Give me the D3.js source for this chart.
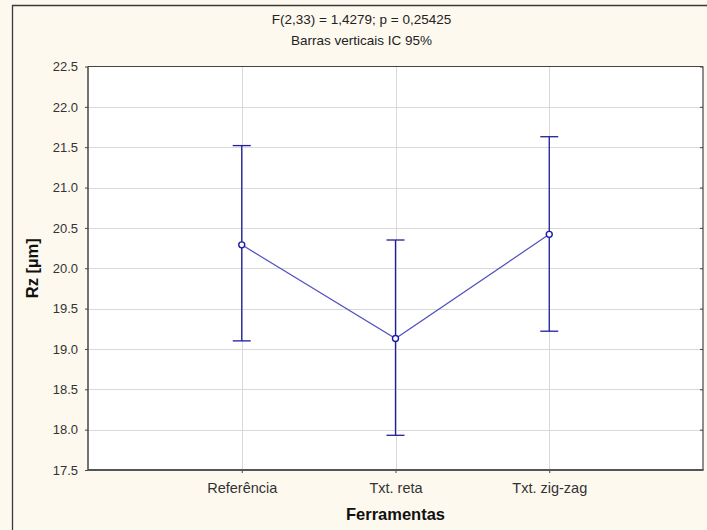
<!DOCTYPE html>
<html>
<head>
<meta charset="utf-8">
<script src="https://cdn.jsdelivr.net/npm/d3@7"></script>
<style>
  html, body { margin: 0; padding: 0; background: #fdf9ef; }
  svg { display: block; }
  text { font-family: "Liberation Sans", Arial, sans-serif; }
</style>
</head>
<body>
<svg id="chart" width="707" height="530"></svg>
<script>
// Rz means per tool with 95% confidence intervals
const categories = ["Referência", "Txt. reta", "Txt. zig-zag"];
const means = [20.29, 19.13, 20.42];
const lowerCI = [19.10, 17.93, 19.22];
const upperCI = [21.52, 20.35, 21.63];
const yTicks = [17.5, 18.0, 18.5, 19.0, 19.5, 20.0, 20.5, 21.0, 21.5, 22.0, 22.5];
const titleLines = ["F(2,33) = 1,4279; p = 0,25425", "Barras verticais IC 95%"];
const xTitle = "Ferramentas";
const yTitle = "Rz [µm]";

const svg = d3.select("#chart");
const W = 707, H = 530;
const plot = { left: 88, right: 703, top: 66.5, bottom: 470 };

// Outer panel
svg.append("rect").attr("x", 0).attr("y", 0).attr("width", W).attr("height", H).attr("fill", "#fdf9ef");
svg.append("path")
  .attr("d", `M12.5,${H} V5.5 H${W}`)
  .attr("fill", "none").attr("stroke", "#3a3a3a").attr("stroke-width", 1.3);

// Scales
const x = d3.scalePoint().domain(["", ...categories, " "]).range([plot.left, plot.right]);
const y = d3.scaleLinear().domain([17.5, 22.5]).range([plot.bottom, plot.top]);

// Plot background
svg.append("rect")
  .attr("x", plot.left).attr("y", plot.top)
  .attr("width", plot.right - plot.left).attr("height", plot.bottom - plot.top)
  .attr("fill", "#ffffff");

// Gridlines
const grid = svg.append("g");
grid.selectAll("line.h").data(yTicks.slice(1, -1)).join("line")
  .attr("x1", plot.left).attr("x2", plot.right)
  .attr("y1", d => Math.round(y(d)) + 0.5).attr("y2", d => Math.round(y(d)) + 0.5)
  .attr("stroke", "#d9d9d9").attr("stroke-width", 1);
grid.selectAll("line.v").data(categories).join("line")
  .attr("x1", d => Math.round(x(d)) + 0.5).attr("x2", d => Math.round(x(d)) + 0.5)
  .attr("y1", plot.top).attr("y2", plot.bottom)
  .attr("stroke", "#d9d9d9").attr("stroke-width", 1);

const labelFont = "'Liberation Sans', Arial, sans-serif";

// Y axis (left, with labels)
const yAxis = d3.axisLeft(y).tickValues(yTicks).tickFormat(d3.format(".1f")).tickSize(3).tickPadding(7);
const gy = svg.append("g").attr("transform", `translate(${plot.left},0)`).call(yAxis);
gy.select(".domain").remove();
gy.selectAll(".tick line").attr("stroke", "#444");
gy.selectAll(".tick text").attr("fill", "#333").style("font-size", "13px").style("font-family", labelFont);

// Right side inner ticks
const gyr = svg.append("g").attr("transform", `translate(${plot.right},0)`)
  .call(d3.axisLeft(y).tickValues(yTicks).tickSize(3).tickFormat(""));
gyr.select(".domain").remove();
gyr.selectAll(".tick line").attr("stroke", "#444");

// X axis (bottom, with labels)
const xAxis = d3.axisBottom(x).tickValues(categories).tickSize(3).tickPadding(10);
const gx = svg.append("g").attr("transform", `translate(0,${plot.bottom})`).call(xAxis);
gx.select(".domain").remove();
gx.selectAll(".tick line").attr("stroke", "#444");
gx.selectAll(".tick text").attr("fill", "#333").style("font-size", "14.5px").style("font-family", labelFont);

// Plot frame
svg.append("line").attr("x1", plot.left).attr("x2", plot.right).attr("y1", plot.top).attr("y2", plot.top)
  .attr("stroke", "#444").attr("stroke-width", 1.2);
svg.append("line").attr("x1", plot.right).attr("x2", plot.right).attr("y1", plot.top).attr("y2", plot.bottom)
  .attr("stroke", "#444").attr("stroke-width", 1.2);
svg.append("line").attr("x1", plot.left).attr("x2", plot.left).attr("y1", plot.top).attr("y2", plot.bottom + 1)
  .attr("stroke", "#444").attr("stroke-width", 1.5);
svg.append("line").attr("x1", plot.left).attr("x2", plot.right + 0.6).attr("y1", plot.bottom).attr("y2", plot.bottom)
  .attr("stroke", "#555").attr("stroke-width", 2.2);

// Mean line
const line = d3.line().x((d, i) => x(categories[i])).y(d => y(d));
svg.append("path").datum(means).attr("d", line)
  .attr("fill", "none").attr("stroke", "#5050c0").attr("stroke-width", 1.2);

// Error bars
const bars = svg.append("g").attr("stroke", "#1e1e9e").attr("stroke-width", 1.3).attr("fill", "none");
categories.forEach((c, i) => {
  const cx = x(c);
  bars.append("line").attr("x1", cx).attr("x2", cx).attr("y1", y(lowerCI[i])).attr("y2", y(upperCI[i]));
  bars.append("line").attr("x1", cx - 9).attr("x2", cx + 9).attr("y1", y(upperCI[i])).attr("y2", y(upperCI[i]));
  bars.append("line").attr("x1", cx - 9).attr("x2", cx + 9).attr("y1", y(lowerCI[i])).attr("y2", y(lowerCI[i]));
});

// Mean markers
svg.append("g").selectAll("circle").data(means).join("circle")
  .attr("cx", (d, i) => x(categories[i])).attr("cy", d => y(d)).attr("r", 3)
  .attr("fill", "#ffffff").attr("stroke", "#1a1ab0").attr("stroke-width", 1.4);

// Titles
const cxTitle = (12 + W) / 2 + 2;
svg.append("text").attr("x", cxTitle).attr("y", 24).attr("text-anchor", "middle")
  .attr("fill", "#222").style("font-size", "13.5px").text(titleLines[0]);
svg.append("text").attr("x", cxTitle).attr("y", 45).attr("text-anchor", "middle")
  .attr("fill", "#222").style("font-size", "13.5px").text(titleLines[1]);

svg.append("text").attr("x", x(categories[1])).attr("y", 520).attr("text-anchor", "middle")
  .attr("fill", "#111").style("font-size", "16.5px").style("font-weight", "bold").text(xTitle);
svg.append("text").attr("transform", `translate(38,${(plot.top + plot.bottom) / 2}) rotate(-90)`)
  .attr("text-anchor", "middle").attr("fill", "#111").style("font-size", "16.5px").style("font-weight", "bold")
  .text(yTitle);
</script>
</body>
</html>
